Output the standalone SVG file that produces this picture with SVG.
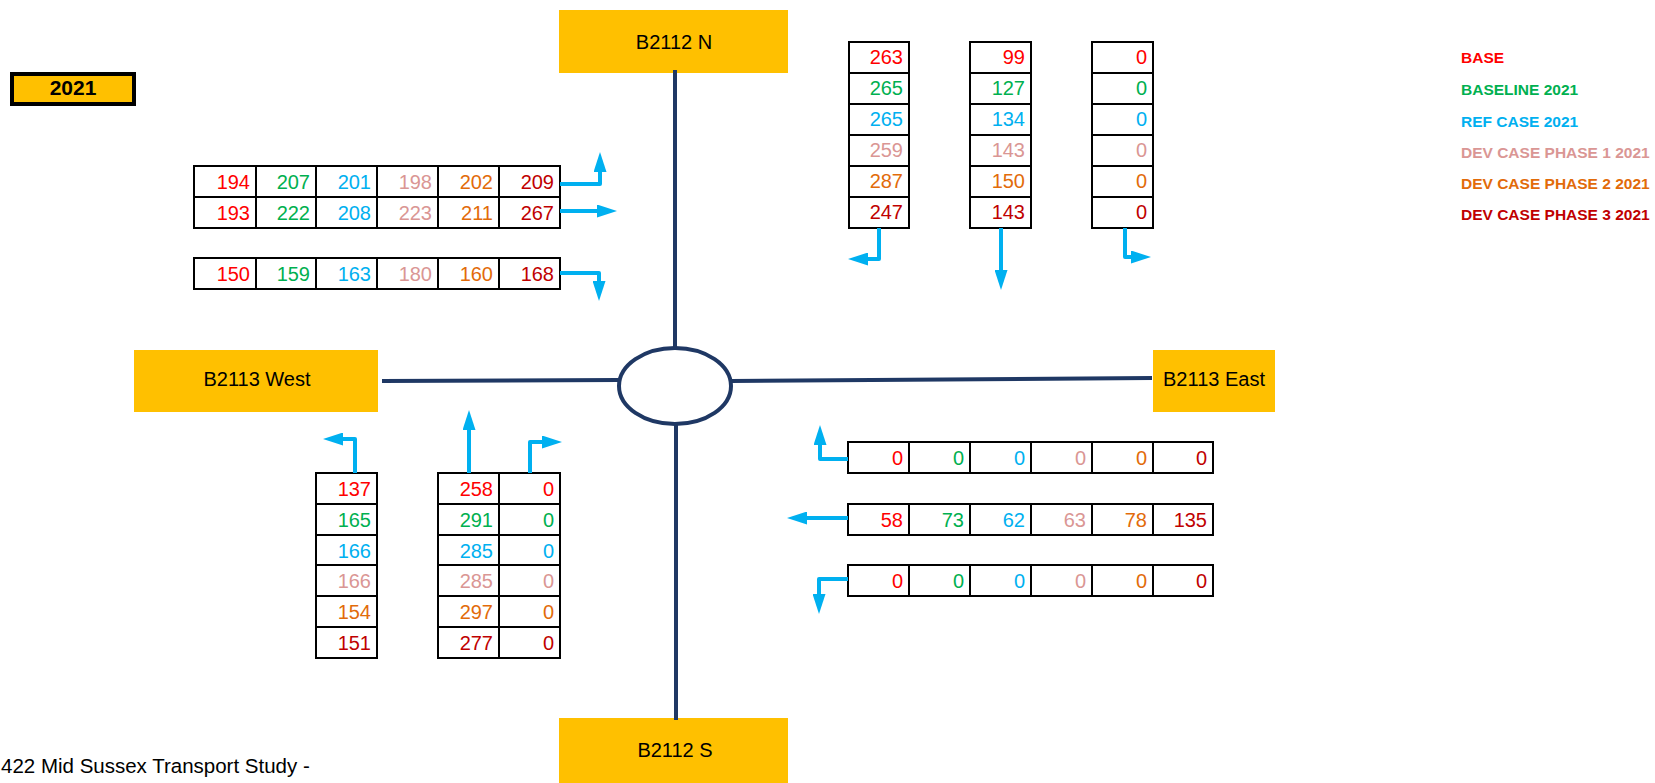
<svg xmlns="http://www.w3.org/2000/svg" width="1655" height="783" viewBox="0 0 1655 783">
<style>
text{font-family:"Liberation Sans",Arial,sans-serif}
.box{fill:#FFC000}
.lbl{font-size:20px;fill:#000;text-anchor:middle}
.cell{fill:#fff;stroke:#000;stroke-width:2}
.grid{stroke:#000;stroke-width:2}
.n{font-size:20px;text-anchor:end}
.leg{font-size:15.5px;font-weight:bold}
.c1{fill:#FF0000}.c2{fill:#00B050}.c3{fill:#00B0F0}.c4{fill:#DA9694}.c5{fill:#E26B0A}.c6{fill:#C00000}
.road{stroke:#1F3864;stroke-width:4;fill:none}
.arr{stroke:#00B0F0;stroke-width:4;fill:none;stroke-linejoin:round;marker-end:url(#ah)}
</style>
<defs>
<marker id="ah" markerUnits="userSpaceOnUse" markerWidth="20" markerHeight="13" refX="14" refY="6.5" orient="auto">
<path d="M0,0 L20,6.5 L0,13 z" fill="#00B0F0"/>
</marker>
</defs>
<rect width="1655" height="783" fill="#fff"/>

<g id="year">
<rect x="12" y="74" width="122" height="30" fill="#FFC000" stroke="#000" stroke-width="4"/>
<text x="73" y="95" font-size="21" font-weight="bold" text-anchor="middle">2021</text>
</g>

<g id="legend" class="leg">
<text x="1461" y="63" class="c1">BASE</text>
<text x="1461" y="95" class="c2">BASELINE 2021</text>
<text x="1461" y="127" class="c3">REF CASE 2021</text>
<text x="1461" y="158" class="c4">DEV CASE PHASE 1 2021</text>
<text x="1461" y="189" class="c5">DEV CASE PHASE 2 2021</text>
<text x="1461" y="220" class="c6">DEV CASE PHASE 3 2021</text>
</g>

<g id="node-b2112n"><rect class="box" x="559" y="10" width="229" height="63"/><text class="lbl" x="674" y="49">B2112 N</text></g>
<g id="node-b2112s"><rect class="box" x="559" y="718" width="229" height="65"/><text class="lbl" x="675" y="757">B2112 S</text></g>
<g id="node-b2113w"><rect class="box" x="134" y="350" width="244" height="62"/><text class="lbl" x="257" y="386" font-size="17">B2113 West</text></g>
<g id="node-b2113e"><rect class="box" x="1153" y="350" width="122" height="62"/><text class="lbl" x="1214" y="386" font-size="16.5">B2113 East</text></g>

<g id="roads">
<path class="road" d="M675,70 V348"/>
<path class="road" d="M676,424 V720"/>
<path class="road" d="M382,381 L619,380"/>
<path class="road" d="M731,381 L1152,378"/>
<ellipse class="road" cx="675" cy="386" rx="56" ry="38" fill="#fff"/>
</g>

<g id="table-nw">
<rect class="cell" x="194" y="166" width="366" height="62"/>
<path class="grid" d="M194,197 H560 M256,166 V228 M316,166 V228 M377,166 V228 M438,166 V228 M499,166 V228"/>
<g class="n">
<text x="250" y="189" class="c1">194</text><text x="310" y="189" class="c2">207</text><text x="371" y="189" class="c3">201</text><text x="432" y="189" class="c4">198</text><text x="493" y="189" class="c5">202</text><text x="554" y="189" class="c6">209</text>
<text x="250" y="220" class="c1">193</text><text x="310" y="220" class="c2">222</text><text x="371" y="220" class="c3">208</text><text x="432" y="220" class="c4">223</text><text x="493" y="220" class="c5">211</text><text x="554" y="220" class="c6">267</text>
</g>
</g>
<g id="table-nw-left">
<rect class="cell" x="194" y="258" width="366" height="31"/>
<path class="grid" d="M256,258 V289 M316,258 V289 M377,258 V289 M438,258 V289 M499,258 V289"/>
<g class="n">
<text x="250" y="281" class="c1">150</text><text x="310" y="281" class="c2">159</text><text x="371" y="281" class="c3">163</text><text x="432" y="281" class="c4">180</text><text x="493" y="281" class="c5">160</text><text x="554" y="281" class="c6">168</text>
</g>
</g>

<g id="table-n1">
<rect class="cell" x="849" y="42" width="60" height="186"/>
<path class="grid" d="M849,73 H909 M849,104 H909 M849,135 H909 M849,166 H909 M849,197 H909"/>
<g class="n">
<text x="903" y="64" class="c1">263</text><text x="903" y="95" class="c2">265</text><text x="903" y="126" class="c3">265</text><text x="903" y="157" class="c4">259</text><text x="903" y="188" class="c5">287</text><text x="903" y="219" class="c6">247</text>
</g>
</g>
<g id="table-n2">
<rect class="cell" x="970" y="42" width="61" height="186"/>
<path class="grid" d="M970,73 H1031 M970,104 H1031 M970,135 H1031 M970,166 H1031 M970,197 H1031"/>
<g class="n">
<text x="1025" y="64" class="c1">99</text><text x="1025" y="95" class="c2">127</text><text x="1025" y="126" class="c3">134</text><text x="1025" y="157" class="c4">143</text><text x="1025" y="188" class="c5">150</text><text x="1025" y="219" class="c6">143</text>
</g>
</g>
<g id="table-n3">
<rect class="cell" x="1092" y="42" width="61" height="186"/>
<path class="grid" d="M1092,73 H1153 M1092,104 H1153 M1092,135 H1153 M1092,166 H1153 M1092,197 H1153"/>
<g class="n">
<text x="1147" y="64" class="c1">0</text><text x="1147" y="95" class="c2">0</text><text x="1147" y="126" class="c3">0</text><text x="1147" y="157" class="c4">0</text><text x="1147" y="188" class="c5">0</text><text x="1147" y="219" class="c6">0</text>
</g>
</g>

<g id="table-s1">
<rect class="cell" x="316" y="473" width="61" height="185"/>
<path class="grid" d="M316,504 H377 M316,535 H377 M316,565 H377 M316,596 H377 M316,627 H377"/>
<g class="n">
<text x="371" y="496" class="c1">137</text><text x="371" y="527" class="c2">165</text><text x="371" y="558" class="c3">166</text><text x="371" y="588" class="c4">166</text><text x="371" y="619" class="c5">154</text><text x="371" y="650" class="c6">151</text>
</g>
</g>
<g id="table-s2">
<rect class="cell" x="438" y="473" width="122" height="185"/>
<path class="grid" d="M438,504 H560 M438,535 H560 M438,565 H560 M438,596 H560 M438,627 H560 M499,473 V658"/>
<g class="n">
<text x="493" y="496" class="c1">258</text><text x="493" y="527" class="c2">291</text><text x="493" y="558" class="c3">285</text><text x="493" y="588" class="c4">285</text><text x="493" y="619" class="c5">297</text><text x="493" y="650" class="c6">277</text>
<text x="554" y="496" class="c1">0</text><text x="554" y="527" class="c2">0</text><text x="554" y="558" class="c3">0</text><text x="554" y="588" class="c4">0</text><text x="554" y="619" class="c5">0</text><text x="554" y="650" class="c6">0</text>
</g>
</g>

<g id="table-e1">
<rect class="cell" x="848" y="442" width="365" height="31"/>
<path class="grid" d="M909,442 V473 M970,442 V473 M1031,442 V473 M1092,442 V473 M1153,442 V473"/>
<g class="n">
<text x="903" y="465" class="c1">0</text><text x="964" y="465" class="c2">0</text><text x="1025" y="465" class="c3">0</text><text x="1086" y="465" class="c4">0</text><text x="1147" y="465" class="c5">0</text><text x="1207" y="465" class="c6">0</text>
</g>
</g>
<g id="table-e2">
<rect class="cell" x="848" y="504" width="365" height="31"/>
<path class="grid" d="M909,504 V535 M970,504 V535 M1031,504 V535 M1092,504 V535 M1153,504 V535"/>
<g class="n">
<text x="903" y="527" class="c1">58</text><text x="964" y="527" class="c2">73</text><text x="1025" y="527" class="c3">62</text><text x="1086" y="527" class="c4">63</text><text x="1147" y="527" class="c5">78</text><text x="1207" y="527" class="c6">135</text>
</g>
</g>
<g id="table-e3">
<rect class="cell" x="848" y="565" width="365" height="31"/>
<path class="grid" d="M909,565 V596 M970,565 V596 M1031,565 V596 M1092,565 V596 M1153,565 V596"/>
<g class="n">
<text x="903" y="588" class="c1">0</text><text x="964" y="588" class="c2">0</text><text x="1025" y="588" class="c3">0</text><text x="1086" y="588" class="c4">0</text><text x="1147" y="588" class="c5">0</text><text x="1207" y="588" class="c6">0</text>
</g>
</g>

<g id="arrows">
<path class="arr" d="M560,184 H600 V158"/>
<path class="arr" d="M560,211 H611"/>
<path class="arr" d="M560,273 H599 V295"/>
<path class="arr" d="M879,228 V259 H854"/>
<path class="arr" d="M1001,228 V284"/>
<path class="arr" d="M1125,228 V257 H1145"/>
<path class="arr" d="M355,473 V439 H329"/>
<path class="arr" d="M469,473 V416"/>
<path class="arr" d="M530,473 V442 H556"/>
<path class="arr" d="M848,459 H820 V431"/>
<path class="arr" d="M848,518 H793"/>
<path class="arr" d="M848,579 H819 V608"/>
</g>

<text x="1" y="773" font-size="20.5" fill="#000">422 Mid Sussex Transport Study -</text>
</svg>
